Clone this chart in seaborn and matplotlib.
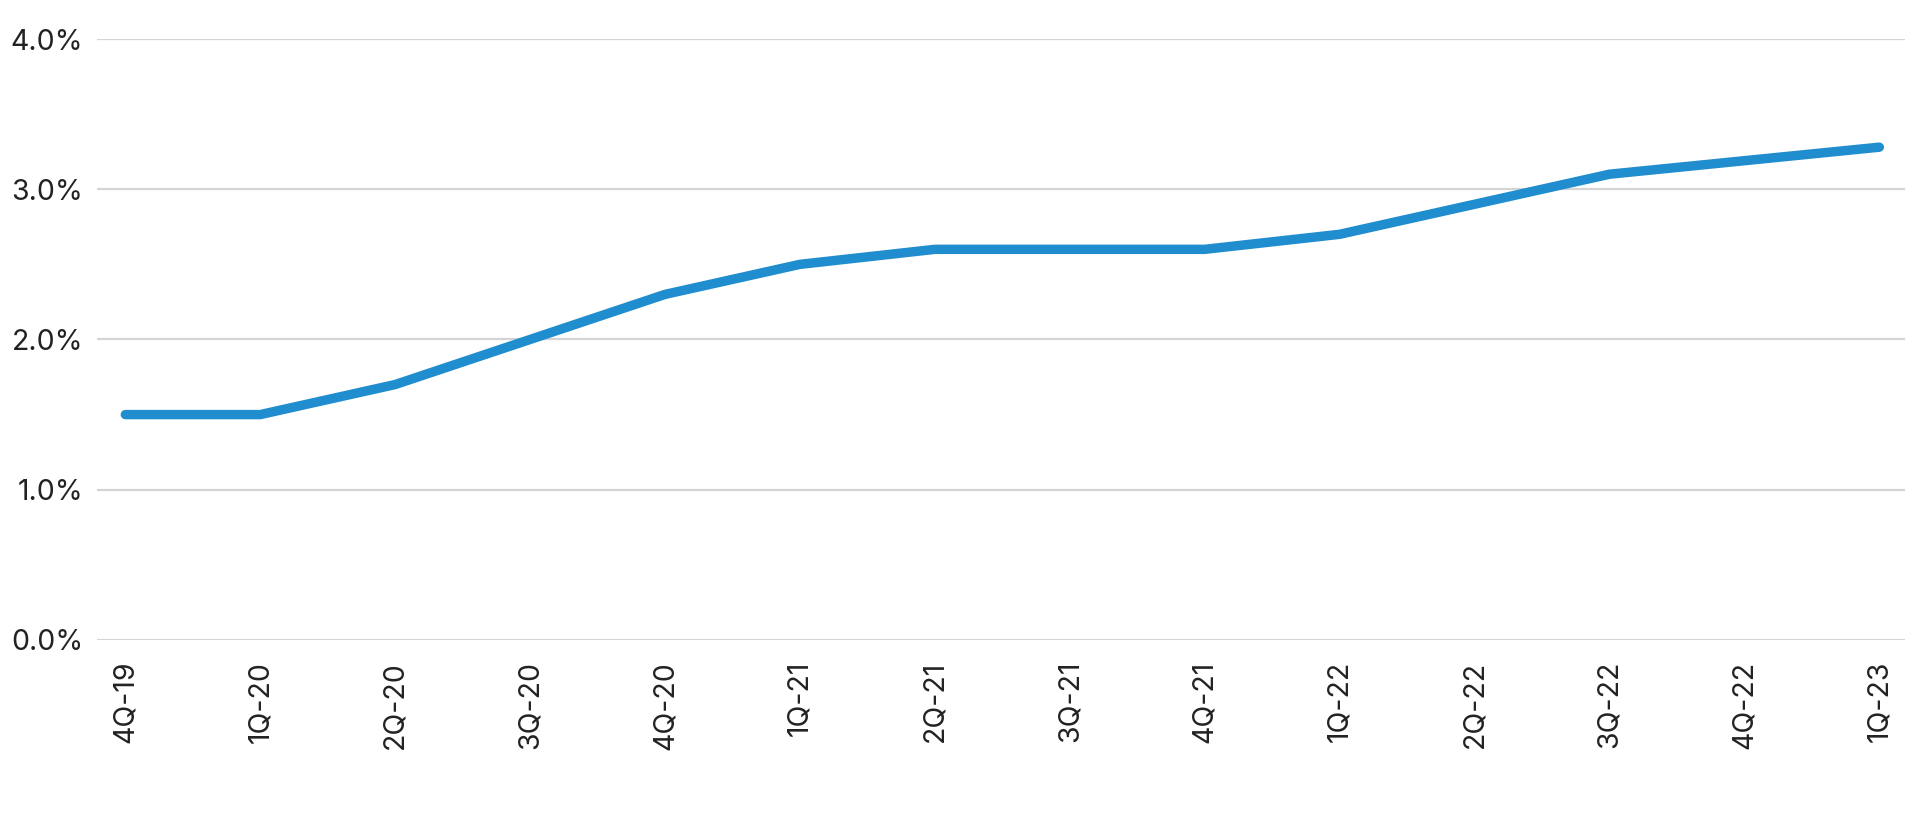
import numpy as np
import pandas as pd
import matplotlib.pyplot as plt
import seaborn as sns
from matplotlib.ticker import PercentFormatter

# quarter labels and values (percent)
quarters = ["4Q-19", "1Q-20", "2Q-20", "3Q-20", "4Q-20", "1Q-21", "2Q-21",
            "3Q-21", "4Q-21", "1Q-22", "2Q-22", "3Q-22", "4Q-22", "1Q-23"]
values = [1.5, 1.5, 1.7, 2.0, 2.3, 2.5, 2.6, 2.6, 2.6, 2.7, 2.9, 3.1, 3.19, 3.28]

df = pd.DataFrame({"pos": np.arange(len(quarters)), "value": values})

sns.set_theme(style="white")
plt.rcParams["font.family"] = ["Inter", "DejaVu Sans"]

fig = plt.figure(figsize=(19.13, 8.30), dpi=100)
ax = fig.add_axes([0.0507, 0.229, 0.9451, 0.724])

sns.lineplot(data=df, x="pos", y="value", ax=ax, color="#1f8dce",
             linewidth=6.8, solid_capstyle="round", solid_joinstyle="round")

ax.set_ylim(0, 4)
ax.set_yticks([0, 1, 2, 3, 4])
ax.yaxis.set_major_formatter(PercentFormatter(decimals=1))
ax.set_xlim(-0.21, 13.19)
ax.set_xticks(df["pos"])
ax.set_xticklabels(quarters, rotation=90)

ax.grid(axis="y", color="#d4d4d4", linewidth=1.6)
ax.set_axisbelow(True)
for s in ax.spines.values():
    s.set_visible(False)

ax.tick_params(axis="y", length=0, pad=10, labelsize=20.5, labelcolor="#222222")
ax.tick_params(axis="x", length=0, pad=15, labelsize=20.5, labelcolor="#222222")
ax.set_xlabel("")
ax.set_ylabel("")

fig.savefig("out.png", dpi=100)
